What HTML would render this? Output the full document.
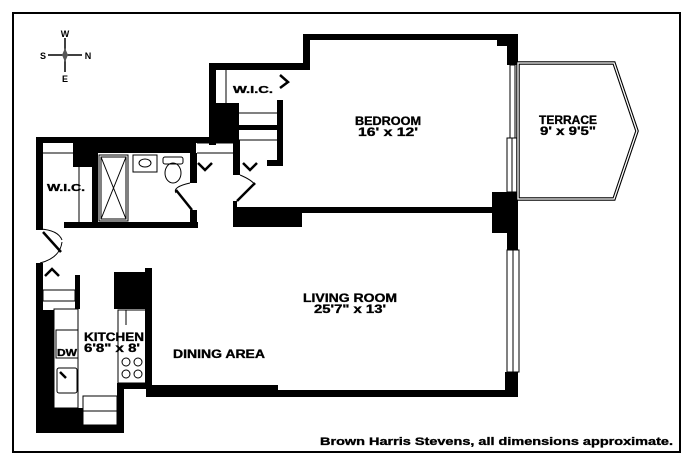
<!DOCTYPE html>
<html><head><meta charset="utf-8"><style>
html,body{margin:0;padding:0;background:#fff;}
svg{display:block;}
text{font-family:"Liberation Sans",Verdana,sans-serif;font-weight:bold;fill:#000;}
.lb{stroke:#000;stroke-width:0.35;}
</style></head><body>
<svg width="694" height="467" viewBox="0 0 694 467" xmlns="http://www.w3.org/2000/svg">
<rect x="0" y="0" width="694" height="467" fill="#fff"/>
<rect x="13" y="13" width="667" height="439" fill="none" stroke="#000" stroke-width="2"/>

<!-- compass -->
<g stroke="#000" stroke-width="1.5">
<line x1="65" y1="38" x2="65" y2="72"/><line x1="48" y1="55" x2="82" y2="55"/>
</g>
<polygon points="65,48 68,55 65,62 62,55" fill="#555"/>
<text x="65" y="37" font-size="9" text-anchor="middle">W</text>
<text x="65" y="82" font-size="9" text-anchor="middle">E</text>
<text x="43" y="59" font-size="9" text-anchor="middle">S</text>
<text x="88" y="59" font-size="9" text-anchor="middle">N</text>

<g fill="#000">
<rect x="303" y="34" width="215" height="6"/>
<rect x="303" y="34" width="7" height="36"/>
<rect x="209" y="63" width="101" height="7"/>
<rect x="497" y="34" width="21" height="12"/>
<rect x="507" y="34" width="11" height="31"/>
<rect x="209" y="63" width="7" height="82"/>
<rect x="209" y="103" width="30" height="40"/>
<rect x="36" y="137" width="202" height="6"/>
<rect x="73" y="137" width="123" height="16"/>
<rect x="73" y="137" width="24" height="30"/>
<rect x="36" y="137" width="7" height="93"/>
<rect x="92" y="153" width="6" height="70"/>
<rect x="64" y="222" width="134" height="6"/>
<rect x="190" y="153" width="7" height="30"/>
<rect x="190" y="210" width="7" height="18"/>
<rect x="239" y="125" width="40" height="5"/>
<rect x="277" y="100" width="6" height="66"/>
<rect x="267" y="160" width="16" height="6"/>
<rect x="233" y="140" width="7" height="35"/>
<rect x="233" y="201" width="4" height="26"/>
<rect x="233" y="207" width="285" height="6"/>
<rect x="233" y="212" width="69" height="15"/>
<rect x="492" y="192" width="26" height="41"/>
<rect x="507" y="192" width="11" height="58"/>
<rect x="146" y="385" width="132" height="12"/>
<rect x="146" y="390" width="372" height="7"/>
<rect x="505" y="372" width="13" height="25"/>
<rect x="36" y="263" width="7" height="50"/>
<rect x="36" y="310" width="18" height="122"/>
<rect x="36" y="408" width="47" height="25"/>
<rect x="36" y="425" width="88" height="8"/>
<rect x="117" y="383" width="7" height="50"/>
<rect x="75" y="275" width="5" height="34"/>
<rect x="114" y="272" width="38" height="37"/>
<rect x="145" y="268" width="7" height="120"/>
<rect x="118" y="383" width="34" height="6"/>
</g>

<g fill="none" stroke="#000" stroke-width="1">
<line x1="226" y1="70" x2="226" y2="103"/>
<line x1="239" y1="113" x2="277" y2="113"/>
<line x1="239" y1="140" x2="277" y2="140"/>
<line x1="43" y1="153" x2="73" y2="153"/>
<line x1="79" y1="167" x2="79" y2="222"/>
<rect x="99" y="155" width="29" height="66"/>
<rect x="101" y="157" width="25" height="62"/>
<line x1="101" y1="157" x2="126" y2="219"/><line x1="126" y1="157" x2="101" y2="219"/>
<rect x="133" y="155" width="24" height="17"/>
<ellipse cx="145" cy="163" rx="6" ry="4"/>
<rect x="163" y="157" width="20" height="7" rx="2"/>
<ellipse cx="173" cy="173" rx="8" ry="10"/>
<line x1="197" y1="153" x2="233" y2="153"/>
<line x1="197" y1="143" x2="233" y2="143"/>
<rect x="54" y="309" width="24" height="99"/>
<rect x="56" y="330" width="22" height="28"/>
<rect x="57" y="368" width="20" height="25" rx="2"/>
<rect x="83" y="396" width="34" height="29"/>
<line x1="83" y1="411" x2="117" y2="411"/>
<rect x="118" y="310" width="28" height="73"/>
<line x1="126" y1="310" x2="126" y2="325"/>
<circle cx="126" cy="362" r="4"/><circle cx="138" cy="362" r="4"/>
<circle cx="126" cy="374" r="4"/><circle cx="138" cy="374" r="4"/>
<rect x="43" y="290" width="32" height="11"/>
<path d="M40,263 Q60,258 62,242"/>
<path d="M40,229 Q58,230 62,240"/>
<path d="M190,183 Q172,187 176,193"/>
<path d="M240,175 Q252,180 255,185"/>
</g>
<g fill="none" stroke="#000" stroke-width="2.5">
<path d="M198,163 L205,170 L212,163"/>
<path d="M243,163 L250,170 L257,163"/>
<path d="M280,75 L288,82 L280,88"/>
<path d="M45,276 L52,269 L59,276"/>
<line x1="176" y1="190" x2="192" y2="210"/>
<line x1="255" y1="183" x2="237" y2="201"/>
<line x1="43" y1="232" x2="61" y2="252"/>
<line x1="60" y1="372" x2="66" y2="378"/>
</g>

<g fill="#fff" stroke="#000" stroke-width="1">
<rect x="507" y="138" width="11" height="54"/>
<rect x="507" y="250" width="12" height="122"/>
<rect x="510" y="65" width="5" height="73"/>
</g>
<g stroke="#000" stroke-width="1"><line x1="512" y1="138" x2="512" y2="192"/><line x1="513" y1="250" x2="513" y2="372"/></g>
<polygon points="518,63 614,63 637,131 614,199 518,199" fill="none" stroke="#000" stroke-width="3.5"/>
<polygon points="518,63 614,63 637,131 614,199 518,199" fill="none" stroke="#fff" stroke-width="1.3"/>

<!-- labels -->
<text class="lb" x="253" y="93" font-size="10" text-anchor="middle" textLength="40" lengthAdjust="spacingAndGlyphs">W.I.C.</text>
<text class="lb" x="66" y="191" font-size="10" text-anchor="middle" textLength="38" lengthAdjust="spacingAndGlyphs">W.I.C.</text>
<text class="lb" x="388" y="125" font-size="12" text-anchor="middle" textLength="66" lengthAdjust="spacingAndGlyphs">BEDROOM</text>
<text class="lb" x="388" y="136" font-size="12" text-anchor="middle" textLength="60" lengthAdjust="spacingAndGlyphs">16' x 12'</text>
<text class="lb" x="568" y="124" font-size="12" text-anchor="middle" textLength="58" lengthAdjust="spacingAndGlyphs">TERRACE</text>
<text class="lb" x="568" y="135" font-size="12" text-anchor="middle" textLength="56" lengthAdjust="spacingAndGlyphs">9' x 9'5"</text>
<text class="lb" x="350" y="302" font-size="12" text-anchor="middle" textLength="94" lengthAdjust="spacingAndGlyphs">LIVING ROOM</text>
<text class="lb" x="350" y="313" font-size="12" text-anchor="middle" textLength="72" lengthAdjust="spacingAndGlyphs">25'7" x 13'</text>
<text class="lb" x="114" y="341" font-size="12" text-anchor="middle" textLength="60" lengthAdjust="spacingAndGlyphs">KITCHEN</text>
<text class="lb" x="112" y="352" font-size="12" text-anchor="middle" textLength="56" lengthAdjust="spacingAndGlyphs">6'8" x 8'</text>
<text class="lb" x="67" y="356" font-size="10" text-anchor="middle" textLength="20" lengthAdjust="spacingAndGlyphs">DW</text>
<text class="lb" x="219" y="358" font-size="12" text-anchor="middle" textLength="92" lengthAdjust="spacingAndGlyphs">DINING AREA</text>
<text class="lb" x="320" y="445" font-size="11" textLength="353" lengthAdjust="spacingAndGlyphs">Brown Harris Stevens, all dimensions approximate.</text>
</svg>
</body></html>
